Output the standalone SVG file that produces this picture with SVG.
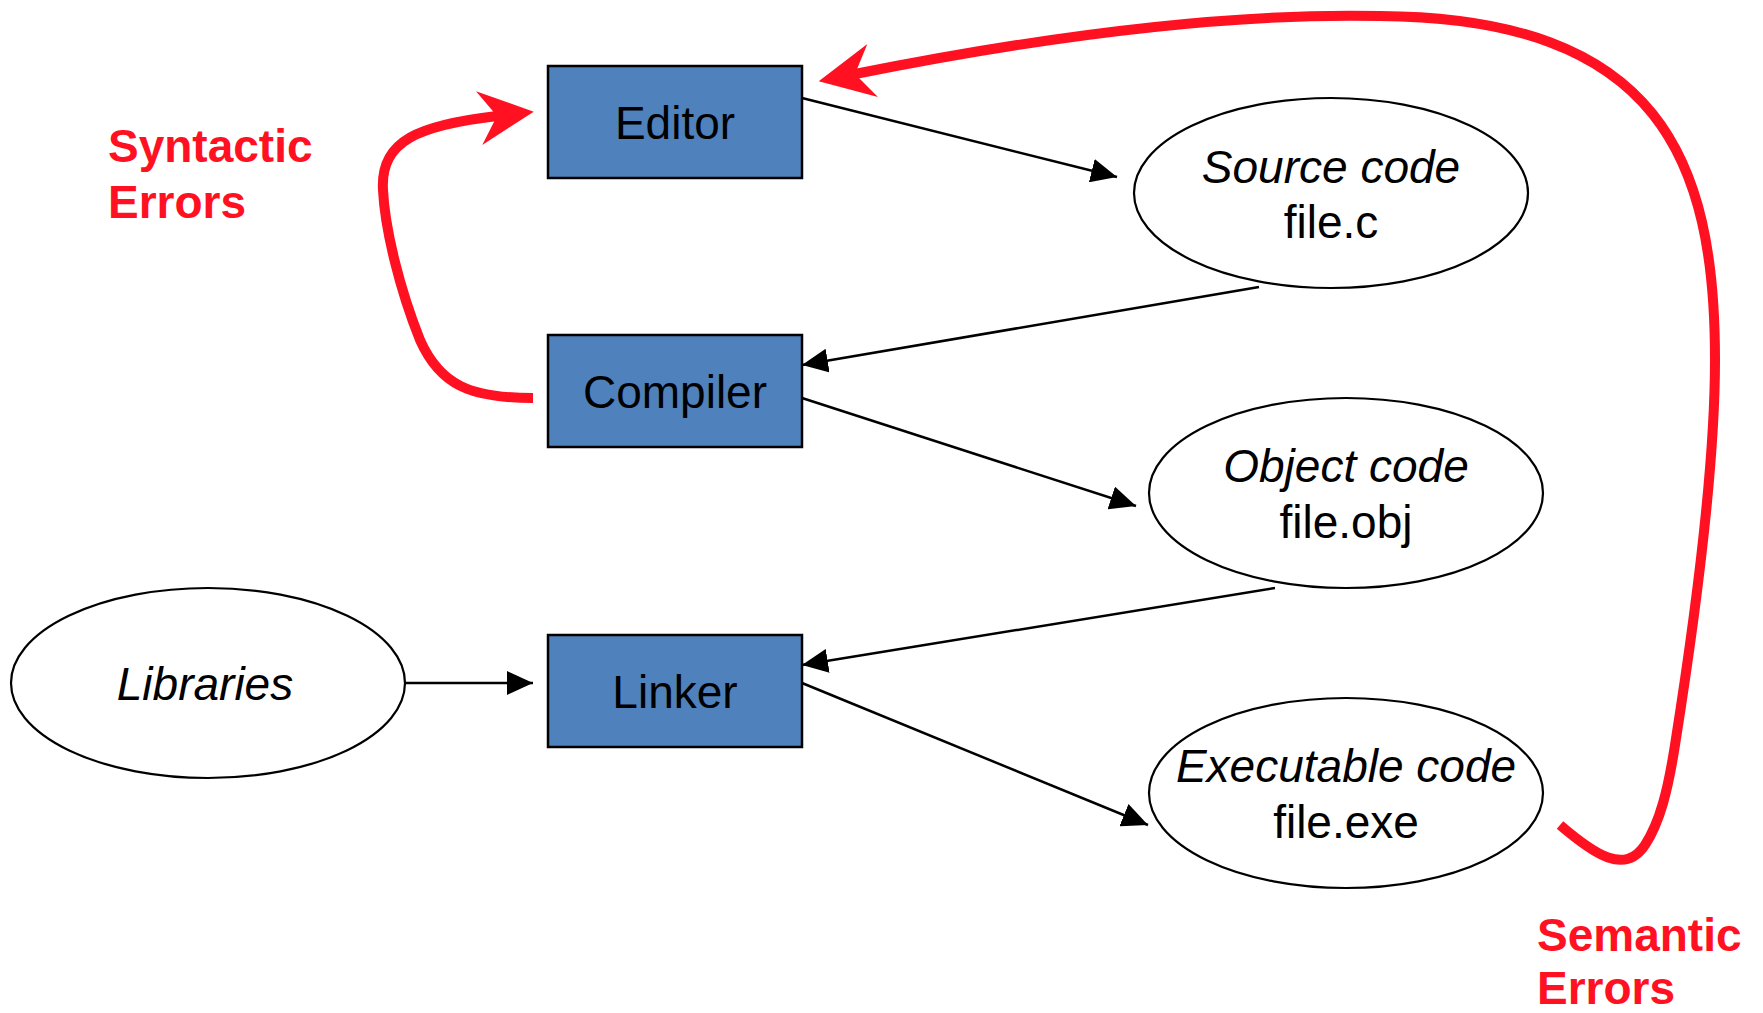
<svg xmlns="http://www.w3.org/2000/svg" width="1763" height="1013" viewBox="0 0 1763 1013">
<defs>
<style>
.box{fill:#4F81BD;stroke:#000;stroke-width:2.5}
.ell{fill:#fff;stroke:#000;stroke-width:2.2}
.lbl{font-family:"Liberation Sans",Arial,sans-serif;font-size:46px;fill:#000;text-anchor:middle}
.it{font-style:italic}
.err{font-family:"Liberation Sans",Arial,sans-serif;font-size:46px;font-weight:bold;fill:#FF1122}
.conn{fill:none;stroke:#000;stroke-width:2.5}
.red{fill:none;stroke:#FF1122;stroke-width:10}
</style>
<marker id="ah" viewBox="0 0 26 24" refX="26" refY="12" markerWidth="26" markerHeight="24" markerUnits="userSpaceOnUse" orient="auto">
<path d="M0,0 L26,12 L0,24 z" fill="#000"/>
</marker>
<marker id="rah" viewBox="-20 -29 60 58" refX="0" refY="0" markerWidth="60" markerHeight="58" markerUnits="userSpaceOnUse" orient="auto">
<path d="M37,0 L-18,-27 L0,0 L-18,27 z" fill="#FF1122"/>
</marker>
</defs>
<rect width="1763" height="1013" fill="#fff"/>
<g id="connectors">
<path class="conn" d="M802,98 L1117,177" marker-end="url(#ah)"/>
<path class="conn" d="M1259,287 L802,365" marker-end="url(#ah)"/>
<path class="conn" d="M802,398 L1136,506" marker-end="url(#ah)"/>
<path class="conn" d="M1275,588 L802,665" marker-end="url(#ah)"/>
<path class="conn" d="M802,683 L1148,825" marker-end="url(#ah)"/>
<path class="conn" d="M406,683 L533,683" marker-end="url(#ah)"/>
<path class="red" d="M533,398 C470,398 440,385 420,340 C400,290 385,230 383,190 C380,140 420,125 497,116" marker-end="url(#rah)"/>
<path class="red" d="M1560,825 C1595,855 1625,875 1645,845 C1660,822 1668,790 1675,745 C1690,650 1715,480 1715,360 C1715,160 1660,18 1380,16 C1200,12 1000,45 855,74" marker-end="url(#rah)"/>
</g>
<g id="editor">
<rect class="box" x="548" y="66" width="254" height="112"/>
<text class="lbl" x="675" y="139">Editor</text>
</g>
<g id="compiler">
<rect class="box" x="548" y="335" width="254" height="112"/>
<text class="lbl" x="675" y="408">Compiler</text>
</g>
<g id="linker">
<rect class="box" x="548" y="635" width="254" height="112"/>
<text class="lbl" x="675" y="708">Linker</text>
</g>
<g id="source">
<ellipse class="ell" cx="1331" cy="193" rx="197" ry="95"/>
<text class="lbl it" x="1331" y="183">Source code</text>
<text class="lbl" x="1331" y="238">file.c</text>
</g>
<g id="object">
<ellipse class="ell" cx="1346" cy="493" rx="197" ry="95"/>
<text class="lbl it" x="1346" y="482">Object code</text>
<text class="lbl" x="1346" y="538">file.obj</text>
</g>
<g id="executable">
<ellipse class="ell" cx="1346" cy="793" rx="197" ry="95"/>
<text class="lbl it" x="1346" y="782">Executable code</text>
<text class="lbl" x="1346" y="838">file.exe</text>
</g>
<g id="libraries">
<ellipse class="ell" cx="208" cy="683" rx="197" ry="95"/>
<text class="lbl it" x="205" y="700">Libraries</text>
</g>
<g id="syntactic">
<text class="err" x="108" y="162">Syntactic</text>
<text class="err" x="108" y="218">Errors</text>
</g>
<g id="semantic">
<text class="err" x="1537" y="951">Semantic</text>
<text class="err" x="1537" y="1004">Errors</text>
</g>
</svg>
